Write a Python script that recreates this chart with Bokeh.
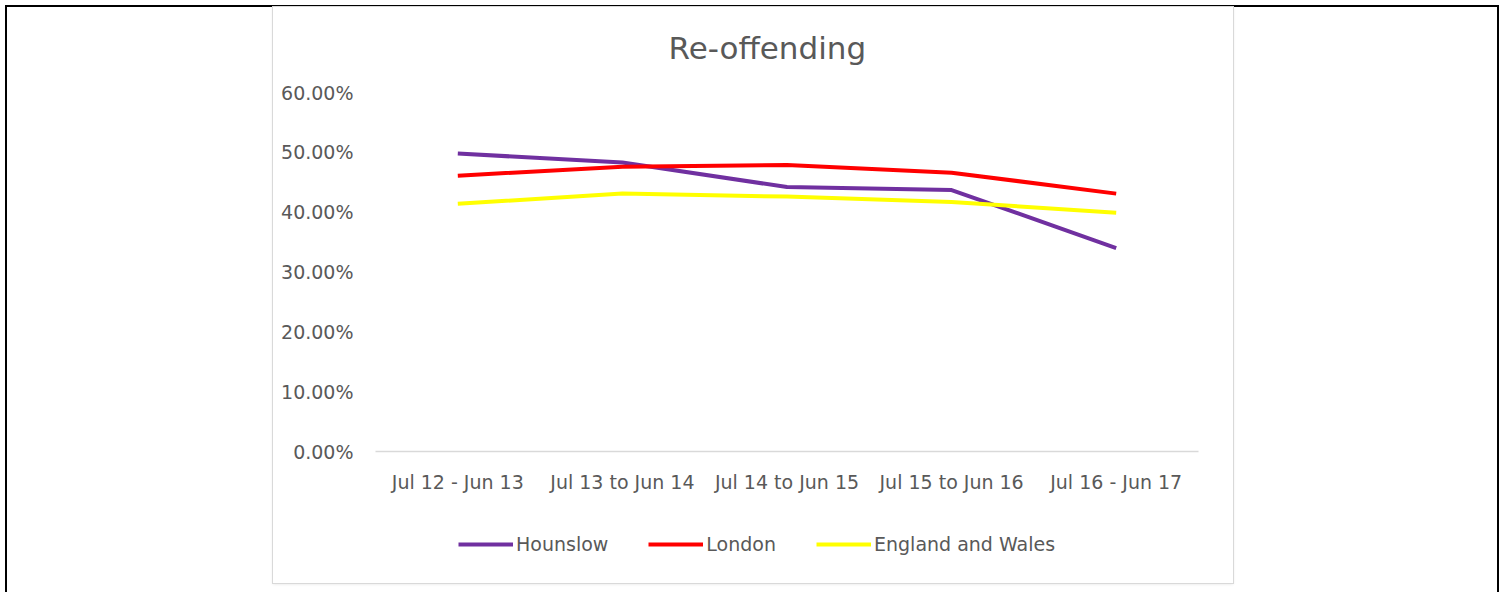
from bokeh.plotting import figure
from bokeh.layouts import row, column
from bokeh.models import (FactorRange, Range1d, Legend, LegendItem, Spacer, Label,
                          NumeralTickFormatter, FixedTicker)
from bokeh.embed import file_html
from bokeh.resources import INLINE

periods = ["Jul 12 - Jun 13", "Jul 13 to Jun 14", "Jul 14 to Jun 15",
           "Jul 15 to Jun 16", "Jul 16 - Jun 17"]
hounslow = [0.498, 0.483, 0.442, 0.437, 0.340]
london = [0.461, 0.476, 0.479, 0.466, 0.431]
england_wales = [0.414, 0.431, 0.426, 0.417, 0.399]
series_names = ["Hounslow", "London", "England and Wales"]
series_colors = ["#7030A0", "#FF0000", "#FFFF00"]
y_ticks = [0.0, 0.1, 0.2, 0.3, 0.4, 0.5, 0.6]
chart_title = "Re-offending"

FONT = "DejaVu Sans"
GREY = "#595959"

xr = FactorRange(*periods, range_padding=0)


def strip(height, y_range):
    f = figure(width=960, height=height, x_range=xr, y_range=y_range,
               output_backend="svg", toolbar_location=None,
               x_axis_location=None, y_axis_location=None,
               min_border=0, min_border_left=0, min_border_right=0,
               min_border_top=0, min_border_bottom=0)
    f.outline_line_color = None
    f.xgrid.grid_line_color = None
    f.ygrid.grid_line_color = None
    f.border_fill_color = "white"
    f.background_fill_color = "white"
    return f


# title strip
tf = strip(60, Range1d(0, 1))
tf.add_layout(Label(x=1.78, y=0.33, text=chart_title, text_align="left",
                    text_baseline="alphabetic", text_font=FONT,
                    text_font_size="31px", text_color=GREY))

# main chart
p = figure(width=960, height=460, x_range=xr,
           y_range=Range1d(0, 0.6), output_backend="svg", toolbar_location=None,
           min_border_left=102, min_border_right=35, min_border_top=25,
           min_border_bottom=76)
p.outline_line_color = None
p.background_fill_color = None
p.border_fill_color = "white"
p.xgrid.grid_line_color = None
p.ygrid.grid_line_color = None

series = [hounslow, london, england_wales]
for vals, col in zip(series, series_colors):
    p.line(periods, vals, line_color=col, line_width=4)

p.yaxis.ticker = FixedTicker(ticks=y_ticks)
p.yaxis.formatter = NumeralTickFormatter(format="0.00%")
p.yaxis.axis_line_color = None
p.yaxis.major_tick_line_color = None
p.yaxis.minor_tick_line_color = None
p.yaxis.major_label_standoff = 16
p.xaxis.axis_line_color = "#d9d9d9"
p.xaxis.axis_line_width = 1.5
p.xaxis.major_tick_line_color = None
p.xaxis.major_label_standoff = 13
for ax in (p.xaxis, p.yaxis):
    ax.major_label_text_font = FONT
    ax.major_label_text_font_size = "19px"
    ax.major_label_text_color = GREY

# legend strip below the chart (its series lie outside its view; only the key shows)
lf = strip(56, Range1d(2, 3))
items = []
for name, vals, col in zip(series_names, series, series_colors):
    r = lf.line(periods, vals, line_color=col, line_width=4)
    items.append(LegendItem(label=name, renderers=[r]))
legend = Legend(items=items, orientation="horizontal", location=(83, 28),
                glyph_width=55, glyph_height=20, label_standoff=3, spacing=40,
                padding=0, margin=0, border_line_color=None,
                background_fill_alpha=0, label_text_font=FONT,
                label_text_font_size="19px", label_text_color=GREY)
lf.add_layout(legend, "center")

box = column(tf, p, lf, spacing=0,
             styles={"outline": "1px solid #d9d9d9",
                     "box-shadow": "0 1px 3px rgba(0,0,0,0.12)"})
inner = row(Spacer(width=266, height=576), box)
layout = column(inner, Spacer(width=10, height=30),
                styles={"border": "2px solid black"}, margin=(5, 0, 0, 5),
                width=1494)

open("out.html", "w").write(file_html(layout, INLINE))
